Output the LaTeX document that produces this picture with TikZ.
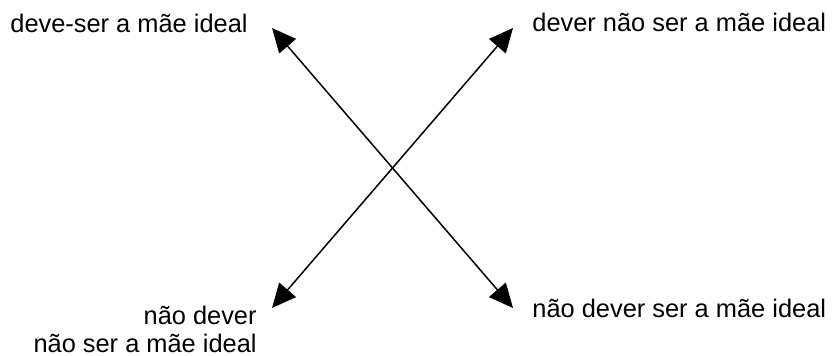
\documentclass[tikz,border=0pt]{standalone}
\usepackage{fontspec}
\setmainfont{Liberation Sans}
\usetikzlibrary{arrows.meta}

\tikzset{
  lbl/.style={inner sep=0pt,font=\fontsize{12.7}{14}\selectfont},
  dblarrow/.style={line width=0.75pt,{Triangle[length=12pt,width=11pt]}-{Triangle[length=12pt,width=11pt]}}
}

\begin{document}
\begin{tikzpicture}[x=0.5pt,y=-0.5pt]
\useasboundingbox (0,0) rectangle (834,356);
\coordinate (tl) at (272,28);
\coordinate (tr) at (513,28);
\coordinate (bl) at (272,308);
\coordinate (br) at (513,308);
\node[lbl,anchor=base west] (ideal) at (10,33) {deve-ser a mãe ideal};
\node[lbl,anchor=base west] (naoser) at (532,32) {dever não ser a mãe ideal};
\node[lbl,anchor=base west] (naodever) at (532,318) {não dever ser a mãe ideal};
% base anchor sits on the last line here
\node[lbl,anchor=base east,align=right] (duplo) at (257,353) {não dever\\não ser a mãe ideal};
\draw[dblarrow] (tl) -- (br);
\draw[dblarrow] (tr) -- (bl);
\end{tikzpicture}
\end{document}
